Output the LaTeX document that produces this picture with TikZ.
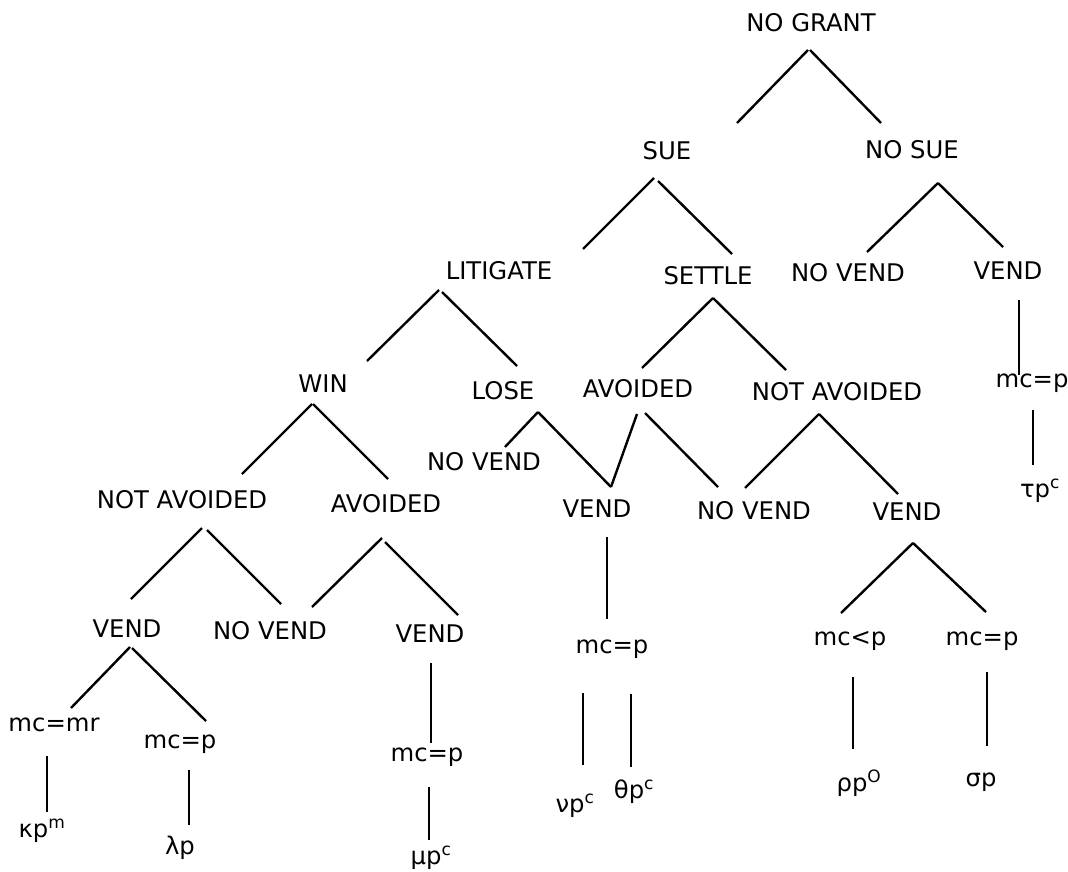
\documentclass[tikz,border=0pt]{standalone}
\usepackage{fontspec}
\setmainfont{DejaVu Sans}

% Verbindung zwischen zwei Knoten, Enden relativ zum Knotenmittelpunkt
\newcommand{\branch}[4]{\draw[branch] ([shift={(#2)}]#1.center) -- ([shift={(#4)}]#3.center);}

\begin{document}
\begin{tikzpicture}[x=1pt, y=-1pt,
    lbl/.style={inner sep=0pt, font=\fontsize{24.3}{28}\selectfont},
    branch/.style={line width=2.4pt}]
        \useasboundingbox (0,0) rectangle (1068,872);

        % Obere Ebenen
        \node[lbl] (grant) at (811,23) {NO GRANT};
        \node[lbl] (sue) at (667,151) {SUE};
        \node[lbl] (nosue) at (912,150) {NO SUE};
        \node[lbl] (litigate) at (499,271) {LITIGATE};
        \node[lbl] (settle) at (708,276) {SETTLE};
        \node[lbl] (novendA) at (848,273) {NO VEND};
        \node[lbl] (vendA) at (1008,271) {VEND};
        \node[lbl] (mcpA) at (1032,383) {mc=p};
        \node[lbl] (tau) at (1040,491) {τp\textsuperscript{c}};

        % Mittlere Ebenen
        \node[lbl] (win) at (323,384) {WIN};
        \node[lbl] (lose) at (503,391) {LOSE};
        \node[lbl] (avoidedA) at (638,389) {AVOIDED};
        \node[lbl] (notavA) at (837,392) {NOT AVOIDED};
        \node[lbl] (notavB) at (182,500) {NOT AVOIDED};
        \node[lbl] (avoidedB) at (386,504) {AVOIDED};
        \node[lbl] (novendB) at (484,462) {NO VEND};
        \node[lbl] (vendB) at (597,509) {VEND};
        \node[lbl] (novendC) at (754,511) {NO VEND};
        \node[lbl] (vendC) at (907,512) {VEND};
        \node[lbl] (vendD) at (127,629) {VEND};
        \node[lbl] (novendD) at (270,631) {NO VEND};
        \node[lbl] (vendE) at (430,634) {VEND};

        % Untere Ebenen
        \node[lbl] (mcmr) at (54,725) {mc=mr};
        \node[lbl] (mcpB) at (180,744) {mc=p};
        \node[lbl] (mcpC) at (427,757) {mc=p};
        \node[lbl] (mcpD) at (612,649) {mc=p};
        \node[lbl] (mclt) at (850,641) {mc<p};
        \node[lbl] (mcpE) at (982,641) {mc=p};

        % Auszahlungen
        \node[lbl] (kappa) at (42,831) {κp\textsuperscript{m}};
        \node[lbl] (lambda) at (180,848) {λp};
        \node[lbl] (mu) at (431,858) {μp\textsuperscript{c}};
        \node[lbl] (nu) at (575,806) {νp\textsuperscript{c}};
        \node[lbl] (theta) at (634,792) {θp\textsuperscript{c}};
        \node[lbl] (rho) at (859,783) {ρp\textsuperscript{O}};
        \node[lbl] (sigma) at (981,782) {σp};

        % Zweige
        \branch{grant}{-3,27}{sue}{70,-28}
        \branch{grant}{-1,27}{nosue}{-31,-27}
        \branch{sue}{-13,27}{litigate}{84,-22}
        \branch{sue}{-9,30}{settle}{24,-22}
        \branch{nosue}{26,33}{novendA}{19,-21}
        \branch{nosue}{26,33}{vendA}{-5,-24}
        \branch{vendA}{11,29}{mcpA}{-13,-8}
        \branch{mcpA}{1,27}{tau}{-7,-26}
        \branch{litigate}{-60,19}{win}{44,-23}
        \branch{litigate}{-57,21}{lose}{14,-25}
        \branch{settle}{5,22}{avoidedA}{4,-21}
        \branch{settle}{5,22}{notavA}{-51,-22}
        \branch{win}{-11,20}{notavB}{60,-26}
        \branch{win}{-10,20}{avoidedB}{2,-25}
        \branch{lose}{35,21}{novendB}{21,-15}
        \branch{lose}{35,21}{vendB}{14,-22}
        \branch{avoidedA}{-1,25}{vendB}{14,-22}
        \branch{avoidedA}{7,24}{novendC}{-36,-24}
        \branch{notavA}{-18,22}{novendC}{-9,-23}
        \branch{notavA}{-18,22}{vendC}{-9,-18}
        \branch{notavB}{20,28}{vendD}{4,-30}
        \branch{notavB}{25,30}{novendD}{11,-27}
        \branch{avoidedB}{-4,34}{novendD}{42,-24}
        \branch{avoidedB}{-1,38}{vendE}{28,-19}
        \branch{vendD}{3,18}{mcmr}{17,-17}
        \branch{vendD}{5,19}{mcpB}{26,-23}
        \branch{vendE}{1,29}{mcpC}{4,-14}
        \branch{mcpC}{2,30}{mu}{-2,-18}
        \branch{vendB}{10,28}{mcpD}{-5,-30}
        \branch{mcpD}{-29,44}{nu}{8,-41}
        \branch{mcpD}{19,45}{theta}{-3,-25}
        \branch{vendC}{6,31}{mclt}{-9,-28}
        \branch{vendC}{6,31}{mcpE}{4,-29}
        \branch{mclt}{3,36}{rho}{-6,-34}
        \branch{mcpE}{5,31}{sigma}{6,-36}
        \branch{mcmr}{-7,31}{kappa}{5,-19}
        \branch{mcpB}{9,26}{lambda}{9,-23}
    \end{tikzpicture}
\end{document}
